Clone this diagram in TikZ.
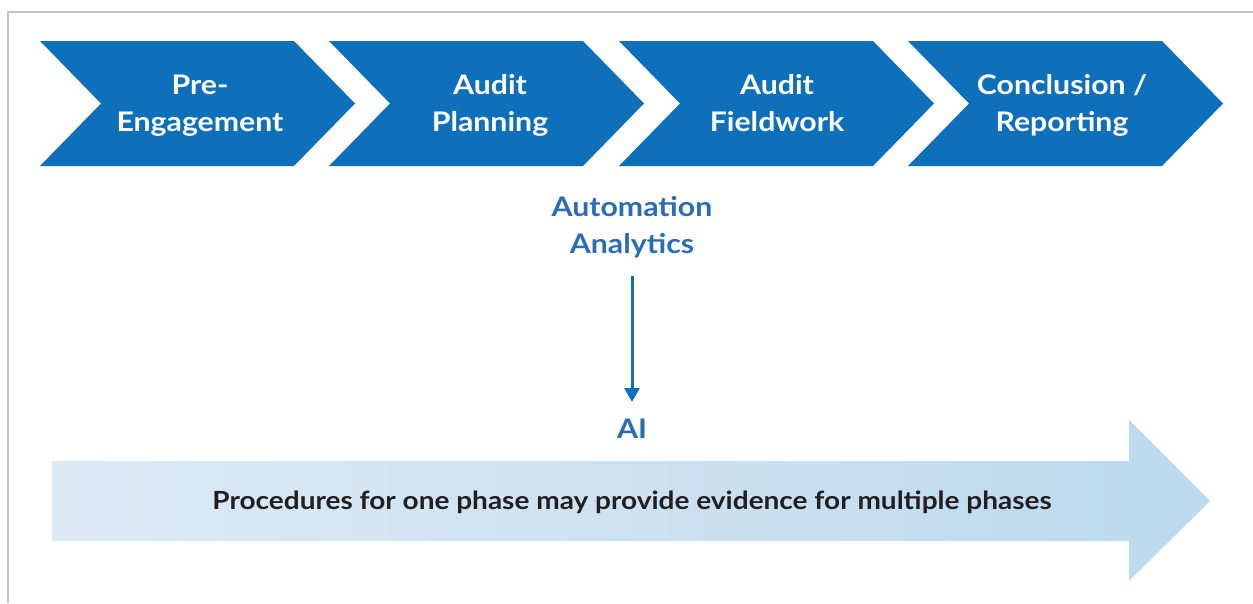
\documentclass[tikz,border=0pt]{standalone}
\usepackage{fontspec}
\setmainfont{Lato}[FakeStretch=1.12]
\usetikzlibrary{arrows.meta}
\definecolor{chevblue}{HTML}{0E6FBA}
\definecolor{txtblue}{HTML}{2A6CB6}
\definecolor{lightL}{HTML}{DDEAF6}
\definecolor{lightR}{HTML}{BCD9EE}
\definecolor{darktxt}{HTML}{231F20}
\definecolor{framegray}{HTML}{C4C4C4}
\tikzset{
  phasetext/.style={text=white, font=\fontsize{27}{37}\selectfont\bfseries, align=center, inner sep=0pt},
  bluetext/.style={text=txtblue, font=\fontsize{27}{37}\selectfont\bfseries, align=center, inner sep=0pt},
  chev/.style={fill=chevblue},
}
\newcommand{\chevronat}[1]{%
  \fill[chev] (#1,41) -- (#1+254,41) -- (#1+315,103.5) -- (#1+254,166) -- (#1,166) -- (#1+61,103.5) -- cycle;}
\begin{document}
\begin{tikzpicture}[x=1pt,y=-1pt]
\useasboundingbox (0,0) rectangle (1253,603);
\draw[framegray, line width=2pt] (8,603) -- (8,12) -- (1253,12);
\chevronat{40}
\chevronat{329}
\chevronat{619}
\chevronat{908}
\node[phasetext] (p1) at (200,106) {\strut Pre-\\\strut Engagement};
\node[phasetext] (p2) at (490,106) {\strut Audit\\\strut Planning};
\node[phasetext] (p3) at (777,106) {\strut Audit\\\strut Fieldwork};
\node[phasetext] (p4) at (1062,106) {\strut Conclusion /\\\strut Reporting};
\node[bluetext] (auto) at (632,228) {\strut Automation\\\strut Analytics};
\node[bluetext] (ai) at (632,429) {AI};
\coordinate (astart) at (632,276);
\coordinate (aend) at (632,402);
\draw[chevblue, line width=3pt, -{Triangle[length=14pt,width=15pt]}] (astart) -- (aend);
\shade[left color=lightL, right color=lightR] (52,461) -- (1129,461) -- (1129,420) -- (1210,501) -- (1129,581) -- (1129,541) -- (52,541) -- cycle;
\node[text=darktxt, font=\fontsize{25}{30}\selectfont\bfseries, inner sep=0pt] (proc) at (632,502) {Procedures for one phase may provide evidence for multiple phases};
\end{tikzpicture}
\end{document}
